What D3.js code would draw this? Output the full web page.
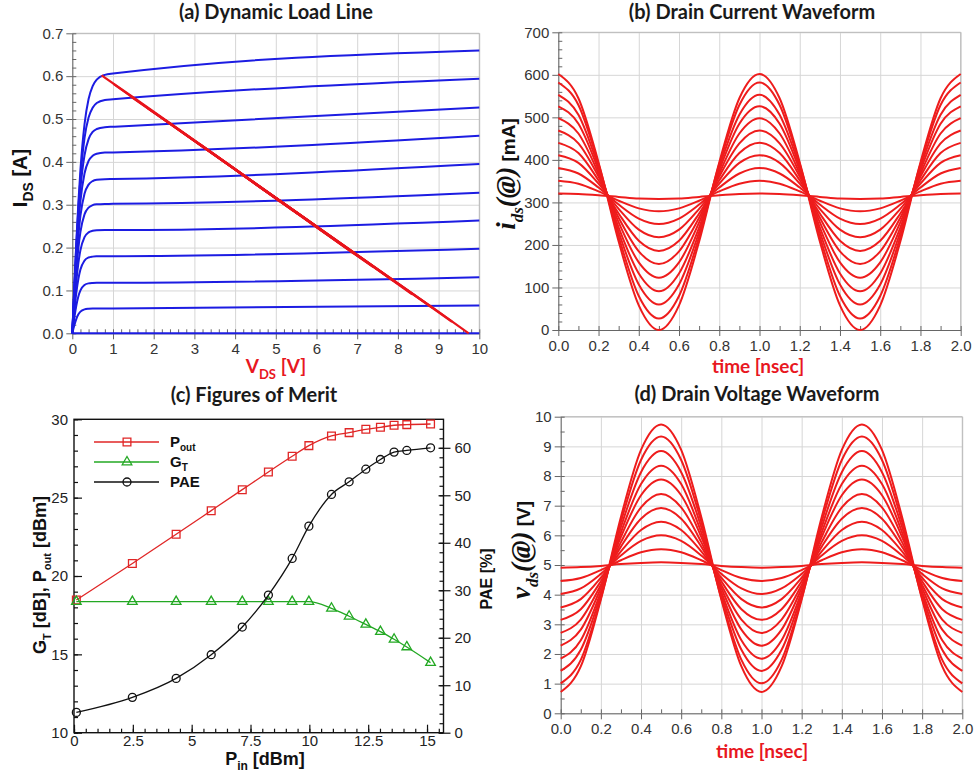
<!DOCTYPE html>
<html>
<head>
<meta charset="utf-8">
<script src="https://cdn.jsdelivr.net/npm/d3@7"></script>
<style>
  body { margin: 0; background: #fff; }
</style>
</head>
<body>
<svg id="fig" width="976" height="772"></svg>
<script>
// ---------- data ----------
// (a) static I-V curves, sampled on these drain voltages
var vdsPts = [0, 0.05, 0.1, 0.15, 0.2, 0.3, 0.4, 0.5, 0.6, 0.8, 1, 10];
var ivCurves = [
  [0, 0, 0, 0, 0, 0, 0, 0, 0, 0, 0, 0],
  [0, 0.0186, 0.0338, 0.0442, 0.0505, 0.0559, 0.0574, 0.0579, 0.058, 0.058, 0.058, 0.065],
  [0, 0.0358, 0.0655, 0.0866, 0.1001, 0.1126, 0.1165, 0.1175, 0.1179, 0.118, 0.118, 0.131],
  [0, 0.0515, 0.0952, 0.1273, 0.1487, 0.1697, 0.1768, 0.1789, 0.1796, 0.180, 0.180, 0.197],
  [0, 0.0653, 0.1217, 0.1644, 0.1940, 0.2244, 0.2355, 0.2391, 0.2404, 0.241, 0.241, 0.263],
  [0, 0.0776, 0.1459, 0.1987, 0.2365, 0.2775, 0.2932, 0.2990, 0.3009, 0.3019, 0.302, 0.328],
  [0, 0.0882, 0.1663, 0.2286, 0.2743, 0.3258, 0.3470, 0.3553, 0.3582, 0.3597, 0.360, 0.395],
  [0, 0.0964, 0.1831, 0.2545, 0.3085, 0.3730, 0.4022, 0.4140, 0.4188, 0.4216, 0.422, 0.461],
  [0, 0.1031, 0.1971, 0.2762, 0.3379, 0.4155, 0.4531, 0.4700, 0.4767, 0.4810, 0.482, 0.527],
  [0, 0.1076, 0.2075, 0.2932, 0.3625, 0.4554, 0.5034, 0.5263, 0.5373, 0.5444, 0.546, 0.594],
  [0, 0.1109, 0.2145, 0.3060, 0.3818, 0.4878, 0.5466, 0.5769, 0.5921, 0.6030, 0.606, 0.660]
];

// (b) and (d) waveforms, one row per drive level, sampled on timePts (nsec)
var timePts = [0, 0.1, 0.2, 0.3, 0.4, 0.5, 0.6, 0.7, 0.8, 0.9, 1.0, 1.1, 1.2, 1.3, 1.4, 1.5, 1.6, 1.7, 1.8, 1.9, 2.0];
var idsWave = [ // mA
  [602, 545, 394, 208, 58, 0, 58, 208, 394, 545, 602, 545, 394, 208, 58, 0, 58, 208, 394, 545, 602],
  [582, 529, 390, 219, 80, 27, 80, 219, 390, 529, 582, 529, 390, 219, 80, 27, 80, 219, 390, 529, 582],
  [553, 506, 383, 230, 107, 60, 107, 230, 383, 506, 553, 506, 383, 230, 107, 60, 107, 230, 383, 506, 553],
  [526, 485, 376, 241, 133, 91, 133, 241, 376, 485, 526, 485, 376, 241, 133, 91, 133, 241, 376, 485, 526],
  [498, 462, 368, 253, 159, 123, 159, 253, 368, 462, 498, 462, 368, 253, 159, 123, 159, 253, 368, 462, 498],
  [469, 439, 361, 264, 185, 155, 185, 264, 361, 439, 469, 439, 361, 264, 185, 155, 185, 264, 361, 439, 469],
  [440, 416, 352, 274, 210, 186, 210, 274, 352, 416, 440, 416, 352, 274, 210, 186, 210, 274, 352, 416, 440],
  [411, 393, 344, 285, 236, 218, 236, 285, 344, 393, 411, 393, 344, 285, 236, 218, 236, 285, 344, 393, 411],
  [381, 368, 335, 295, 262, 249, 262, 295, 335, 368, 381, 368, 335, 295, 262, 249, 262, 295, 335, 368, 381],
  [351, 344, 326, 304, 286, 279, 286, 304, 326, 344, 351, 344, 326, 304, 286, 279, 286, 304, 326, 344, 351],
  [321, 320, 317, 313, 309, 308, 309, 313, 317, 320, 321, 320, 317, 313, 309, 308, 309, 313, 317, 320, 321]
];
var vdsWave = [ // V
  [0.72, 1.58, 3.84, 6.62, 8.88, 9.74, 8.88, 6.62, 3.84, 1.58, 0.72, 1.58, 3.84, 6.62, 8.88, 9.74, 8.88, 6.62, 3.84, 1.58, 0.72],
  [1.01, 1.80, 3.88, 6.46, 8.54, 9.33, 8.54, 6.46, 3.88, 1.80, 1.01, 1.80, 3.88, 6.46, 8.54, 9.33, 8.54, 6.46, 3.88, 1.80, 1.01],
  [1.43, 2.14, 3.99, 6.28, 8.13, 8.84, 8.13, 6.28, 3.99, 2.14, 1.43, 2.14, 3.99, 6.28, 8.13, 8.84, 8.13, 6.28, 3.99, 2.14, 1.43],
  [1.84, 2.46, 4.09, 6.10, 7.73, 8.35, 7.73, 6.10, 4.09, 2.46, 1.84, 2.46, 4.09, 6.10, 7.73, 8.35, 7.73, 6.10, 4.09, 2.46, 1.84],
  [2.28, 2.82, 4.22, 5.95, 7.35, 7.88, 7.35, 5.95, 4.22, 2.82, 2.28, 2.82, 4.22, 5.95, 7.35, 7.88, 7.35, 5.95, 4.22, 2.82, 2.28],
  [2.71, 3.16, 4.33, 5.77, 6.94, 7.39, 6.94, 5.77, 4.33, 3.16, 2.71, 3.16, 4.33, 5.77, 6.94, 7.39, 6.94, 5.77, 4.33, 3.16, 2.71],
  [3.15, 3.51, 4.45, 5.62, 6.56, 6.92, 6.56, 5.62, 4.45, 3.51, 3.15, 3.51, 4.45, 5.62, 6.56, 6.92, 6.56, 5.62, 4.45, 3.51, 3.15],
  [3.57, 3.85, 4.57, 5.46, 6.18, 6.46, 6.18, 5.46, 4.57, 3.85, 3.57, 3.85, 4.57, 5.46, 6.18, 6.46, 6.18, 5.46, 4.57, 3.85, 3.57],
  [4.02, 4.21, 4.70, 5.32, 5.81, 6.00, 5.81, 5.32, 4.70, 4.21, 4.02, 4.21, 4.70, 5.32, 5.81, 6.00, 5.81, 5.32, 4.70, 4.21, 4.02],
  [4.46, 4.56, 4.83, 5.16, 5.43, 5.53, 5.43, 5.16, 4.83, 4.56, 4.46, 4.56, 4.83, 5.16, 5.43, 5.53, 5.43, 5.16, 4.83, 4.56, 4.46],
  [4.91, 4.93, 4.97, 5.03, 5.07, 5.09, 5.07, 5.03, 4.97, 4.93, 4.91, 4.93, 4.97, 5.03, 5.07, 5.09, 5.07, 5.03, 4.97, 4.93, 4.91]
];

// (c) figures of merit vs input power
var pin  = [0.1, 2.48, 4.34, 5.83, 7.15, 8.26, 9.27, 9.98, 10.94, 11.69, 12.40, 13.02, 13.60, 14.14, 15.15];
var pout = [18.47, 20.80, 22.66, 24.17, 25.51, 26.64, 27.64, 28.32, 28.94, 29.15, 29.36, 29.49, 29.62, 29.66, 29.70];
var gt   = [18.36, 18.36, 18.36, 18.36, 18.36, 18.36, 18.36, 18.36, 17.94, 17.43, 16.91, 16.45, 15.96, 15.47, 14.47];
var pae  = [4.28, 7.44, 11.44, 16.42, 22.25, 28.98, 36.7, 43.5, 50.18, 52.84, 55.5, 57.54, 59.09, 59.44, 60.0];

// tick values
var aTicksX = [0, 1, 2, 3, 4, 5, 6, 7, 8, 9, 10];
var aTicksY = [0, 0.1, 0.2, 0.3, 0.4, 0.5, 0.6, 0.7];
var bTicksX = [0, 0.2, 0.4, 0.6, 0.8, 1.0, 1.2, 1.4, 1.6, 1.8, 2.0];
var bTicksY = [0, 100, 200, 300, 400, 500, 600, 700];
var cTicksX = [0, 2.5, 5, 7.5, 10, 12.5, 15];
var cTicksYL = [10, 15, 20, 25, 30];
var cTicksYR = [0, 10, 20, 30, 40, 50, 60];
var dTicksY = [0, 1, 2, 3, 4, 5, 6, 7, 8, 9, 10];

// ---------- drawing ----------
var svg = d3.select("#fig");
var SANS = "'Liberation Sans', Arial, sans-serif";
var SERIF = "'Liberation Serif', 'Times New Roman', serif";
var TITLE = "Lato, 'Open Sans', sans-serif";
var BLUE = "#1c1ce2", RED = "#ee1c1c", LRED = "#e8171f";

function styleAxis(sel, col, txt) {
  sel.attr("font-family", SANS).attr("font-size", 15);
  sel.selectAll(".tick line").attr("stroke", col);
  sel.select(".domain").attr("stroke", col);
  sel.selectAll(".tick text").attr("fill", txt);
}

// text with subscripts; parts = [{t, sub, family, style, size, weight}]
function richText(x, y, rot, parts, base) {
  var t = svg.append("text")
    .attr("text-anchor", "middle")
    .attr("transform", "translate(" + x + "," + y + ")" + (rot ? " rotate(-90)" : ""))
    .style("font-family", base.family)
    .style("font-weight", base.weight || "bold")
    .style("font-size", base.size + "px")
    .attr("fill", base.fill || "#111");
  var shift = 0;
  parts.forEach(function(p) {
    var s = t.append("tspan").text(p.t);
    var want = p.sub ? base.size * 0.3 : 0;
    if (want !== shift) { s.attr("dy", want - shift); shift = want; }
    if (p.sub) s.style("font-size", (p.size || Math.round(base.size * 0.65)) + "px");
    else if (p.size) s.style("font-size", p.size + "px");
    if (p.family) s.style("font-family", p.family);
    if (p.style) s.style("font-style", p.style);
    if (p.weight) s.style("font-weight", p.weight);
  });
  return t;
}

function title(x, y, str) {
  svg.append("text").attr("x", x).attr("y", y).attr("text-anchor", "middle")
    .style("font-family", TITLE).style("font-weight", "bold").style("font-size", "20px")
    .attr("fill", "#1a1a1a").text(str);
}

// grid-style panel used for (a), (b), (d)
function adsPanel(box, xDom, yDom, xMaj, xMinStep, yMaj, yMinStep, xFmt, yFmt) {
  var x = d3.scaleLinear().domain(xDom).range([box.l, box.r]);
  var y = d3.scaleLinear().domain(yDom).range([box.b, box.t]);
  var w = box.r - box.l, h = box.b - box.t;
  var g = svg.append("g");

  // grid
  g.append("g").attr("transform", "translate(0," + box.b + ")")
    .call(d3.axisBottom(x).tickValues(xMaj).tickSize(-h).tickFormat(""))
    .call(s => s.select(".domain").remove())
    .selectAll("line").attr("stroke", "#d6d6d6");
  g.append("g").attr("transform", "translate(" + box.l + ",0)")
    .call(d3.axisLeft(y).tickValues(yMaj).tickSize(-w).tickFormat(""))
    .call(s => s.select(".domain").remove())
    .selectAll("line").attr("stroke", "#d6d6d6");

  g.append("path")
    .attr("d", "M" + box.l + "," + box.t + "H" + box.r + "V" + box.b)
    .attr("fill", "none").attr("stroke", "#b8b8b8");

  // minor ticks pointing inward
  var xMin = d3.range(xDom[0], xDom[1] + xMinStep / 2, xMinStep);
  var yMin = d3.range(yDom[0], yDom[1] + yMinStep / 2, yMinStep);
  g.append("g").attr("transform", "translate(0," + box.b + ")")
    .call(d3.axisBottom(x).tickValues(xMin).tickSize(-4).tickFormat(""))
    .call(s => s.select(".domain").remove())
    .call(s => styleAxis(s, "#666", "#333"));
  g.append("g").attr("transform", "translate(" + box.l + ",0)")
    .call(d3.axisLeft(y).tickValues(yMin).tickSize(-4).tickFormat(""))
    .call(s => s.select(".domain").remove())
    .call(s => styleAxis(s, "#666", "#333"));

  // major ticks + labels
  g.append("g").attr("transform", "translate(0," + box.b + ")")
    .call(d3.axisBottom(x).tickValues(xMaj).tickSizeInner(6).tickSizeOuter(0).tickPadding(4).tickFormat(xFmt))
    .call(s => styleAxis(s, "#666", "#333"));
  g.append("g").attr("transform", "translate(" + box.l + ",0)")
    .call(d3.axisLeft(y).tickValues(yMaj).tickSizeInner(6).tickSizeOuter(0).tickPadding(3).tickFormat(yFmt))
    .call(s => styleAxis(s, "#666", "#333"));

  return { x: x, y: y, g: g };
}

// ----- (a) Dynamic Load Line -----
var boxA = { l: 72.3, r: 479.3, t: 33.3, b: 333.3 };
var pa = adsPanel(boxA, [0, 10], [0, 0.7], aTicksX, 0.2, aTicksY, 0.02, d3.format("d"), d3.format(".1f"));
var ivLine = d3.line()
  .x((d, i) => pa.x(vdsPts[i]))
  .y(d => pa.y(d))
  .curve(d3.curveMonotoneX);
pa.g.append("g").selectAll("path").data(ivCurves).join("path")
  .attr("d", ivLine).attr("fill", "none").attr("stroke", BLUE).attr("stroke-width", 2);

// dynamic load line: drain current against drain voltage for every drive level
var loadLine = d3.line().x(d => pa.x(d[0])).y(d => pa.y(d[1]));
pa.g.append("g").selectAll("path")
  .data(vdsWave.map((row, k) => row.map((v, i) => [v, idsWave[k][i] / 1000])))
  .join("path")
  .attr("d", loadLine).attr("fill", "none").attr("stroke", "#e8141c").attr("stroke-width", 2.2);

title(276, 19, "(a) Dynamic Load Line");
richText(27, 178, true, [{ t: "I" }, { t: "DS", sub: true, size: 14 }, { t: " [A]" }],
  { family: SANS, size: 20, fill: "#111" });
richText(276, 373, false, [{ t: "V" }, { t: "DS", sub: true, size: 13 }, { t: " [V]" }],
  { family: TITLE, size: 19, fill: LRED });

// ----- (b) Drain Current Waveform -----
var boxB = { l: 558.3, r: 960.7, t: 32.3, b: 330 };
var pb = adsPanel(boxB, [0, 2], [0, 700], bTicksX, 0.1, bTicksY, 20, d3.format(".1f"), d3.format("d"));
var idLine = d3.line()
  .x((d, i) => pb.x(timePts[i]))
  .y(d => pb.y(d))
  .curve(d3.curveMonotoneX);
pb.g.append("g").selectAll("path").data(idsWave).join("path")
  .attr("d", idLine).attr("fill", "none").attr("stroke", RED).attr("stroke-width", 2);

title(752, 19, "(b) Drain Current Waveform");
richText(515, 174, true, [
  { t: "i", family: SERIF, style: "italic" },
  { t: "ds", sub: true, size: 17, family: SERIF, style: "italic" },
  { t: "(@)", family: SERIF, style: "italic" },
  { t: " [mA]", size: 19 }
], { family: SANS, size: 27, fill: "#111" });
richText(758, 373, false, [{ t: "time [nsec]" }], { family: TITLE, size: 19, fill: LRED });

// ----- (d) Drain Voltage Waveform -----
var boxD = { l: 560.7, r: 962.3, t: 416.7, b: 713.3 };
var pd = adsPanel(boxD, [0, 2], [0, 10], bTicksX, 0.1, dTicksY, 0.5, d3.format(".1f"), d3.format("d"));
var vdLine = d3.line()
  .x((d, i) => pd.x(timePts[i]))
  .y(d => pd.y(d))
  .curve(d3.curveMonotoneX);
pd.g.append("g").selectAll("path").data(vdsWave).join("path")
  .attr("d", vdLine).attr("fill", "none").attr("stroke", RED).attr("stroke-width", 2);

title(757, 401, "(d) Drain Voltage Waveform");
richText(530, 550, true, [
  { t: "v", family: SERIF, style: "italic" },
  { t: "ds", sub: true, size: 17, family: SERIF, style: "italic" },
  { t: "(@)", family: SERIF, style: "italic" },
  { t: " [V]", size: 19 }
], { family: SANS, size: 27, fill: "#111" });
richText(762, 758, false, [{ t: "time [nsec]" }], { family: TITLE, size: 19, fill: LRED });

// ----- (c) Figures of Merit -----
var boxC = { l: 74, r: 443.5, t: 419.3, b: 732.7 };
var cx = d3.scaleLinear().domain([0, 15.7]).range([boxC.l, boxC.r]);
var cyL = d3.scaleLinear().domain([10, 30]).range([boxC.b, boxC.t]);
var cyR = d3.scaleLinear().domain([0, 66]).range([boxC.b, boxC.t]);
var gc = svg.append("g");

function blackAxis(sel) {
  sel.attr("font-family", SANS).attr("font-size", 15);
  sel.selectAll(".tick line").attr("stroke", "#111").attr("stroke-width", 1.2);
  sel.select(".domain").remove();
  sel.selectAll(".tick text").attr("fill", "#222");
}
// minor ticks
gc.append("g").attr("transform", "translate(0," + boxC.b + ")")
  .call(d3.axisBottom(cx).tickValues(d3.range(0, 15.6, 0.5)).tickSize(-4).tickFormat(""))
  .call(blackAxis);
gc.append("g").attr("transform", "translate(" + boxC.l + ",0)")
  .call(d3.axisLeft(cyL).tickValues(d3.range(10, 30.5, 1)).tickSize(-4).tickFormat(""))
  .call(blackAxis);
gc.append("g").attr("transform", "translate(" + boxC.r + ",0)")
  .call(d3.axisRight(cyR).tickValues(d3.range(0, 66, 2)).tickSize(-4).tickFormat(""))
  .call(blackAxis);
// major ticks
gc.append("g").attr("transform", "translate(0," + boxC.b + ")")
  .call(d3.axisBottom(cx).tickValues(cTicksX).tickSize(-8).tickPadding(3).tickFormat(d3.format("")))
  .call(blackAxis);
gc.append("g").attr("transform", "translate(" + boxC.l + ",0)")
  .call(d3.axisLeft(cyL).tickValues(cTicksYL).tickSize(-8).tickPadding(6).tickFormat(d3.format("d")))
  .call(blackAxis);
gc.append("g").attr("transform", "translate(" + boxC.r + ",0)")
  .call(d3.axisRight(cyR).tickValues(cTicksYR).tickSize(-5).tickFormat(""))
  .call(blackAxis);
gc.append("g").attr("transform", "translate(" + boxC.r + ",0)")
  .call(d3.axisRight(cyR).tickValues(cTicksYR).tickSize(7).tickPadding(4).tickFormat(d3.format("d")))
  .call(blackAxis);
gc.append("rect")
  .attr("x", boxC.l).attr("y", boxC.t)
  .attr("width", boxC.r - boxC.l).attr("height", boxC.b - boxC.t)
  .attr("fill", "none").attr("stroke", "#111").attr("stroke-width", 1.4);

var series = [
  { vals: pout, y: cyL, color: "#e02626", sym: d3.symbolSquare, size: 60 },
  { vals: gt, y: cyL, color: "#23a823", sym: d3.symbolTriangle, size: 40 },
  { vals: pae, y: cyR, color: "#111111", sym: d3.symbolCircle, size: 50 }
];
series.forEach(function(s) {
  var ln = d3.line().x((d, i) => cx(pin[i])).y(d => s.y(d)).curve(d3.curveMonotoneX);
  gc.append("path").datum(s.vals).attr("d", ln)
    .attr("fill", "none").attr("stroke", s.color).attr("stroke-width", 1.3);
  gc.append("g").selectAll("path").data(s.vals).join("path")
    .attr("transform", (d, i) => "translate(" + cx(pin[i]) + "," + s.y(d) + ")")
    .attr("d", d3.symbol(s.sym, s.size))
    .attr("fill", "none").attr("stroke", s.color).attr("stroke-width", 1.3);
});

// legend
var legY = [442, 462, 482];
var legLabels = [
  [{ t: "P" }, { t: "out", sub: true, size: 10 }],
  [{ t: "G" }, { t: "T", sub: true, size: 10 }],
  [{ t: "PAE" }]
];
series.forEach(function(s, k) {
  gc.append("line").attr("x1", 94).attr("x2", 159).attr("y1", legY[k]).attr("y2", legY[k])
    .attr("stroke", s.color).attr("stroke-width", 1.3);
  gc.append("path").attr("transform", "translate(127," + legY[k] + ")")
    .attr("d", d3.symbol(s.sym, s.size))
    .attr("fill", "none").attr("stroke", s.color).attr("stroke-width", 1.3);
  var t = gc.append("text").attr("x", 170).attr("y", legY[k] + 5)
    .style("font-family", SANS).style("font-weight", "bold").style("font-size", "15px").attr("fill", "#111");
  legLabels[k].forEach(function(p) {
    var sp = t.append("tspan").text(p.t);
    if (p.sub) sp.attr("dy", 4).style("font-size", p.size + "px");
  });
});

title(254, 402, "(c) Figures of Merit");
richText(265, 765, false, [{ t: "P" }, { t: "in", sub: true, size: 12 }, { t: " [dBm]" }],
  { family: SANS, size: 18, fill: "#111" });
richText(46, 575, true, [
  { t: "G" }, { t: "T", sub: true, size: 11 }, { t: " [dB], P" }, { t: "out", sub: true, size: 11 }, { t: " [dBm]" }
], { family: SANS, size: 18, fill: "#111" });
richText(492, 579, true, [{ t: "PAE [%]" }], { family: SANS, size: 16, fill: "#111" });
</script>
</body>
</html>
